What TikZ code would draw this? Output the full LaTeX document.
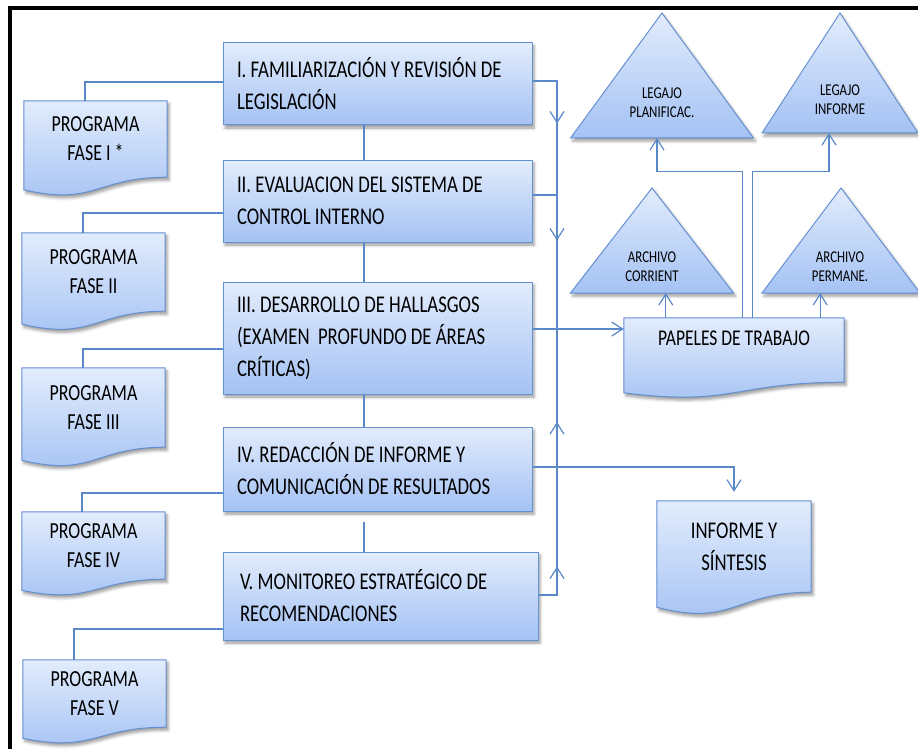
\documentclass[tikz,border=0pt]{standalone}
\usepackage{fontspec}
\setmainfont{Carlito}[FakeStretch=0.78]
\usetikzlibrary{arrows.meta,calc,backgrounds,shadows.blur,decorations.markings}

\definecolor{fillTop}{HTML}{E2ECFC}
\definecolor{fillBot}{HTML}{A4C2F4}
\definecolor{edgeBlue}{HTML}{6590D2}
\definecolor{linkBlue}{HTML}{5A89C9}

\tikzset{%
  softshadow/.style = {blur shadow={shadow xshift=2pt, shadow yshift=-3pt,%
                       shadow blur radius=3pt, shadow opacity=40}},%
  phase/.style    = {shape=rectangle, draw=edgeBlue, line width=1pt,%
                     top color=fillTop, bottom color=fillBot, softshadow,%
                     align=flush left, text width=281pt, inner xsep=14pt,%
                     minimum width=309pt, font=\fontsize{24}{32}\selectfont},%
  progdoc/.style  = {shape=rectangle, align=center, minimum width=143pt,%
                     font=\fontsize{23}{29}\selectfont},%
  docfill/.style  = {draw=edgeBlue, line width=1pt,%
                     top color=fillTop, bottom color=fillBot, softshadow},%
  trishape/.style = {draw=edgeBlue, line width=1pt, line join=miter,%
                     top color=fillTop, bottom color=fillBot, softshadow},%
  tritext/.style  = {align=center, font=\fontsize{16.5}{19}\selectfont},%
  link/.style     = {draw=linkBlue, line width=1.2pt},%
  barb/.tip       = {Straight Barb[length=11pt,width=14pt]},%
  midtip/.style   = {postaction={decorate, decoration={markings,%
                     mark=at position #1 with {\arrow{barb}}}}}%
}

% wavy bottom of a document box
\newcommand{\docshape}[1]{%
  \path[docfill] let \p1 = ($(#1.north)-(#1.south)$) in
    (#1.north west) -- (#1.north east) -- (#1.south east)
    .. controls (#1.south) and ($(#1.south)+(0,-0.381*\y1)$)
    .. ($(#1.south west)+(0,-0.165*\y1)$) -- cycle;}

% triangle: name, apex, half width, height
\newcommand{\archtri}[4]{%
  \coordinate (#1-apex) at #2;
  \path[trishape] (#1-apex) -- ++(#3,#4) -- ++(-2*#3,0) -- cycle;
  \coordinate (#1-base) at ($(#1-apex)+(0,#4)$);}

\begin{document}
\begin{tikzpicture}[x=1pt,y=-1pt]
  \useasboundingbox (0,0) rectangle (918,749);

  % phases
  \node[phase, minimum height=82pt] (b1) at (377.5,84)
    {I. FAMILIARIZACIÓN Y REVISIÓN DE\\LEGISLACIÓN};
  \node[phase, minimum height=82pt] (b2) at (377.5,201)
    {II. EVALUACION DEL SISTEMA DE\\CONTROL INTERNO};
  \node[phase, minimum height=112pt] (b3) at (377.5,338)
    {III. DESARROLLO DE HALLASGOS\\(EXAMEN~ PROFUNDO DE ÁREAS\\CRÍTICAS)};
  \node[phase, minimum height=84pt] (b4) at (377.5,469)
    {IV. REDACCIÓN DE INFORME Y\\COMUNICACIÓN DE RESULTADOS};
  \node[phase, minimum height=88pt, minimum width=315pt] (b5) at (380.5,596)
    {V. MONITOREO ESTRATÉGICO DE\\RECOMENDACIONES};

  % programs
  \node[progdoc, minimum height=76pt] (p1) at (95.5,139) {PROGRAMA\\FASE I *};
  \node[progdoc, minimum height=78pt] (p2) at (93.5,272) {PROGRAMA\\FASE II};
  \node[progdoc, minimum height=79pt] (p3) at (93.5,407.5) {PROGRAMA\\FASE III};
  \node[progdoc, minimum height=67pt] (p4) at (93.5,545.5) {PROGRAMA\\FASE IV};
  \node[progdoc, minimum height=67pt] (p5) at (94.5,693.5) {PROGRAMA\\FASE V};

  % outputs
  \node[progdoc, minimum width=220pt, minimum height=64pt, text height=15pt,
        text depth=25pt, font=\fontsize{22.5}{26}\selectfont] (pap) at (734,350)
    {PAPELES DE TRABAJO};
  \node[progdoc, minimum width=154pt, minimum height=91pt,
        font=\fontsize{24}{32}\selectfont] (inf) at (734,546.5)
    {INFORME Y\\SÍNTESIS};

  \node[tritext] (lp) at (662,102.5) {LEGAJO\\PLANIFICAC.};
  \node[tritext] (li) at (840,99.5) {LEGAJO\\INFORME};
  \node[tritext] (ac) at (652,267) {ARCHIVO\\CORRIENT};
  \node[tritext] (ap) at (840,266.5) {ARCHIVO\\PERMANE.};

  \begin{scope}[on background layer]
    \foreach \d in {p1,p2,p3,p4,p5,pap,inf} {\docshape{\d}}
    \archtri{lp}{(662,13)}{91.5}{125}
    \archtri{li}{(840,13)}{78}{120}
    \archtri{ac}{(652,188)}{81.5}{105}
    \archtri{ap}{(841,188)}{79}{105}
  \end{scope}

  % chain of phases
  \draw[link] ([xshift=-13.5pt]b1.south) -- ([xshift=-13.5pt]b2.north);
  \draw[link] ([xshift=-13.5pt]b2.south) -- ([xshift=-13.5pt]b3.north);
  \draw[link] ([xshift=-13.5pt]b3.south) -- ([xshift=-13.5pt]b4.north);
  \draw[link, shorten <=10pt] ([xshift=-13.5pt]b4.south) -- ([xshift=-16.5pt]b5.north);

  % phases to programs
  \draw[link] ([yshift=2pt]b1.west) -| ([xshift=-10.5pt]p1.north);
  \draw[link] ([yshift=-12pt]b2.west) -| ([xshift=-10.5pt]p2.north);
  \draw[link] ([yshift=-11pt]b3.west) -| ([xshift=-10.5pt]p3.north);
  \draw[link] ([yshift=-24pt]b4.west) -| ([xshift=-11.5pt]p4.north);
  \draw[link] ([yshift=-33pt]b5.west) -| ([xshift=-20.5pt]p5.north);

  % collecting line
  \coordinate (j2) at (557,195);
  \coordinate (j3) at (557,329);
  \coordinate (j4) at (557,467);
  \draw[link, midtip=67pt] ([yshift=3pt]b1.east) -| (j2);
  \draw[link, midtip=70pt] ([yshift=6pt]b2.east) -| (j3);
  \draw[link, midtip=45pt] (j4) -- (j3);
  \draw[link, midtip=47pt] ([yshift=1pt]b5.east) -| (j4);
  \draw[link, -barb] ([yshift=9pt]b3.east) -- (pap.west |- j3);
  \draw[link, -barb, shorten >=9pt] ([yshift=2pt]b4.east) -| (inf.north);

  % working papers to files
  \coordinate (pa1) at ([xshift=42pt]pap.north west);
  \coordinate (pa2) at ([xshift=-24pt]pap.north east);
  \coordinate (pa3) at ([xshift=119pt]pap.north west);
  \coordinate (pa4) at ([xshift=129pt]pap.north west);
  \draw[link, -barb] (pa1) -- (pa1 |- ac-base);
  \draw[link, -barb] (pa2) -- (pa2 |- ap-base);
  \draw[link, -barb] (pa3) -- ++(0,-146) -| ([xshift=-5pt]lp-base);
  \draw[link, -barb] (pa4) -- ++(0,-146) -| ([xshift=-11pt]li-base);

  % frame
  \draw[line width=4pt] (10,749) -- (10,8) -- (918,8);
\end{tikzpicture}
\end{document}
